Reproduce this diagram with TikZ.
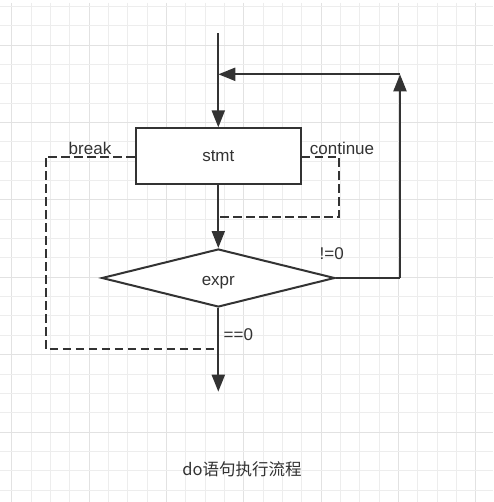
\documentclass[tikz,border=0pt]{standalone}
\usepackage{fontspec}
\setmainfont{Liberation Sans}
\newfontfamily\cjk{Noto Sans CJK SC}
\usetikzlibrary{shapes.geometric,arrows.meta}
\definecolor{ink}{HTML}{333333}
\definecolor{gridminor}{HTML}{EDEDED}
\definecolor{gridmajor}{HTML}{E2E2E2}
\tikzset{
  line/.style={draw=ink,line width=2pt},
  arr/.style={line,-{Triangle[length=17pt,width=13pt]}},
  dashline/.style={draw=ink,line width=2pt,dash pattern=on 8.5pt off 4.5pt},
  lbl/.style={text=ink,font=\fontsize{17}{19}\selectfont,inner sep=0pt},
  boxnode/.style={draw=ink,line width=2pt,fill=white,minimum width=164.7pt,minimum height=55.7pt,inner sep=0pt,lbl},
  decision/.style={diamond,draw=ink,line width=2pt,fill=white,minimum width=233pt,minimum height=58pt,inner sep=0pt,lbl,text height=14pt,text depth=0pt}
}
\begin{document}
\begin{tikzpicture}[x=1pt,y=-1pt]
\useasboundingbox (0,0) rectangle (493,502);
\fill[white] (0,0) rectangle (493,502);
% grid
\foreach \i in {0,...,25} {
  \pgfmathsetmacro\gx{11.67+19.333*\i}
  \pgfmathtruncatemacro\m{mod(\i,4)}
  \ifnum\m=0 \draw[gridmajor,line width=1pt] (\gx,3) -- (\gx,502); \else \draw[gridminor,line width=1pt] (\gx,3) -- (\gx,502);\fi
}
\foreach \i in {0,...,25} {
  \pgfmathsetmacro\gy{6.67+19.333*\i}
  \pgfmathtruncatemacro\m{mod(\i+2,4)}
  \ifnum\m=0 \draw[gridmajor,line width=1pt] (0,\gy) -- (493,\gy); \else \draw[gridminor,line width=1pt] (0,\gy) -- (493,\gy);\fi
}
% nodes
\node[boxnode] (stmt) at (218.3,156.2) {stmt};
\node[decision] (expr) at (218.3,278) {expr};
\coordinate (start) at (218.3,33.3);
\coordinate (join) at (218.3,74.3);
\coordinate (rtop) at (400,74.3);
\coordinate (rbot) at (400,278);
\coordinate (cont1) at (339.3,156.7);
\coordinate (cont2) at (339.3,216.7);
\coordinate (cont3) at (218.3,216.7);
\coordinate (brk1) at (45.7,156.7);
\coordinate (brk2) at (45.7,349.3);
\coordinate (brk3) at (218.3,349.3);
\coordinate (endpt) at (218.3,391.7);
% connectors
\draw[line] (start) -- (join);
\draw[arr] (join) -- (stmt.north);
\draw[arr] (stmt.south) -- (expr.north);
\draw[line] (expr.east) -- (rbot);
\draw[arr] (rbot) -- (rtop);
\draw[arr] (rtop) -- (join);
\draw[arr] (expr.south) -- (endpt);
\draw[dashline] (stmt.east |- cont1) -- (cont1) -- (cont2) -- (cont3);
\draw[dashline] (stmt.west |- brk1) -- (brk1) -- (brk2) -- (brk3);
% labels
\node[lbl] (lbreak) at (90,148) {break};
\node[lbl] (lcont) at (342,148) {continue};
\node[lbl] (lne) at (331.7,253.5) {!=0};
\node[lbl] (leq) at (238.3,334.3) {==0};
\node[text=ink,inner sep=0pt] (cap) at (242,469.3) {\cjk\fontsize{16.5}{19}\selectfont do语句执行流程};
\end{tikzpicture}
\end{document}
